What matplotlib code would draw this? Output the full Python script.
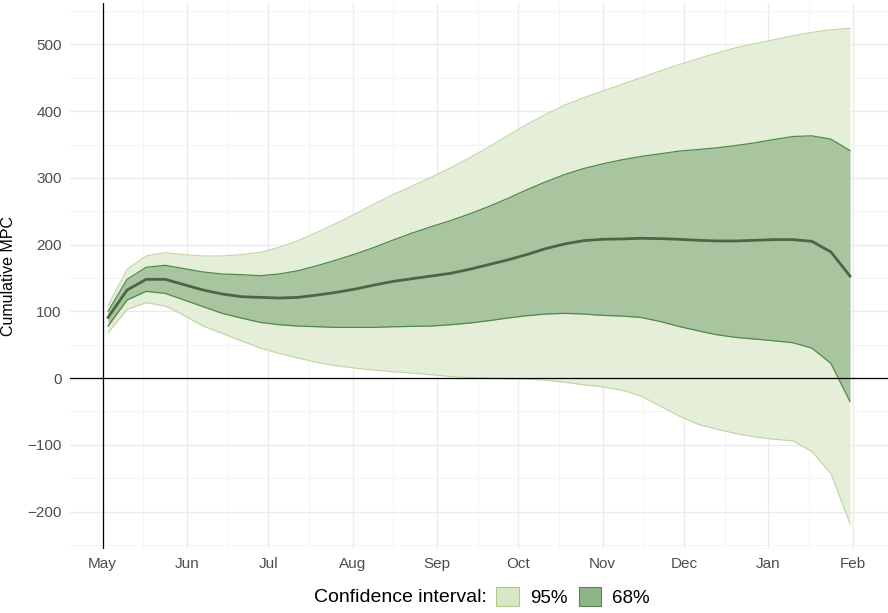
import matplotlib
matplotlib.use("Agg")
import matplotlib.pyplot as plt
from matplotlib.patches import Patch
import numpy as np
import pandas as pd

plt.rcParams['font.family'] = ['Liberation Sans', 'DejaVu Sans']

# weekly dates, May 3 2020 .. Jan 31 2021
dates = pd.date_range("2020-05-03", "2021-01-31", freq="7D")

median = [91, 132, 148, 148, 140, 132, 126, 122,
          121, 120, 121, 124.5, 128.5, 133.5, 139.5, 145,
          149, 153, 157, 163, 170, 177, 185, 194, 201, 206,
          208, 208.5, 209.5, 209, 208, 206.5, 205.5, 205.5, 206.5, 207.5, 207.5,
          205, 189, 153]
upper68 = [100, 148, 166, 169, 164, 159, 156, 155,
           153.5, 156, 161, 168.5, 177, 186, 196, 207,
           217.5, 227, 236, 246, 257, 269, 282, 294, 305, 314,
           321, 327, 332, 336, 340, 342.5, 345, 348.5, 352.5, 357.5, 362,
           363, 358, 341]
lower68 = [78, 117, 130, 127, 117, 107, 97, 90,
           83.5, 80, 78, 77, 76, 76, 76, 77,
           77.5, 78, 80, 82.5, 86, 90, 93.5, 96, 97, 96,
           94, 93, 91, 85, 77.5, 71, 65, 61, 58.5, 56, 53,
           45, 22, -35]
upper95 = [109, 163, 183, 188, 185, 183, 183, 185,
           188.5, 196, 206, 218.5, 232, 246, 261, 275,
           288, 301, 315, 330, 346, 363, 380, 395, 409, 420,
           430, 440, 450, 460, 469.5, 478.5, 487, 495, 501, 507, 513,
           518, 522, 524]
lower95 = [68, 103, 113, 108, 94, 78, 67, 56,
           45, 37, 30, 23.5, 18.5, 15, 12, 9.5,
           7.5, 5, 2.5, 1, 0, -1, -1.5, -3, -6, -10,
           -13, -18, -26.5, -41.5, -56.5, -69, -76.5, -83, -88, -91.5, -94,
           -110, -143, -218]

month_labels = ["May", "Jun", "Jul", "Aug", "Sep", "Oct", "Nov", "Dec", "Jan", "Feb"]

fill95 = "#e5eed9"
edge95 = "#bdd6a0"
fill68 = "#a9c5a0"
edge68 = "#4e8a48"
line_col = "#4a6644"

fig = plt.figure(figsize=(8.88, 6.13), dpi=100)
ax = fig.add_axes([70 / 888, 1 - 549 / 613, 818 / 888, 546 / 613])

ax.fill_between(dates, lower95, upper95, color=fill95, lw=0, zorder=2)
ax.plot(dates, upper95, color=edge95, lw=0.8, zorder=3)
ax.plot(dates, lower95, color=edge95, lw=0.8, zorder=3)
ax.fill_between(dates, lower68, upper68, color=fill68, lw=0, zorder=4)
ax.plot(dates, upper68, color=edge68, lw=0.9, zorder=5)
ax.plot(dates, lower68, color=edge68, lw=0.9, zorder=5)
ax.plot(dates, median, color=line_col, lw=2, zorder=6)

ax.axhline(0, color="black", lw=0.9, zorder=7)
ax.axvline(pd.Timestamp("2020-05-01"), color="black", lw=0.9, zorder=7)

month_ticks = pd.date_range("2020-05-01", "2021-02-01", freq="MS")
mid_ticks = month_ticks[:-1] + pd.Timedelta(days=15)
ax.set_xticks(month_ticks)
ax.set_xticklabels(month_labels)
ax.set_xticks(mid_ticks, minor=True)
ax.set_yticks(np.arange(-200, 501, 100))
ax.set_yticklabels([str(v).replace("-", "\u2212") for v in range(-200, 501, 100)])
ax.set_yticks(np.arange(-250, 551, 100), minor=True)

ax.set_xlim(pd.Timestamp("2020-04-19"), pd.Timestamp("2021-02-14"))
ax.set_ylim(-256, 562)

ax.grid(which="major", color="#ebebeb", lw=1.0, zorder=0)
ax.grid(which="minor", color="#f2f2f2", lw=0.6, zorder=0)
ax.set_axisbelow(True)
for s in ax.spines.values():
    s.set_visible(False)
ax.tick_params(which="both", length=0, labelsize=11, labelcolor="#4d4d4d", pad=6)

ax.set_ylabel("Cumulative MPC", fontsize=11.5, labelpad=8)

fig.text(487 / 888, 1 - 597 / 613, "Confidence interval:", ha="right", va="center", fontsize=14)
handles = [Patch(facecolor="#d8e6c6", edgecolor="#a9cc88", lw=0.8, label="95%"),
           Patch(facecolor="#8fb48a", edgecolor="#4e8a48", lw=0.8, label="68%")]
fig.legend(handles=handles, loc="center left", bbox_to_anchor=(496 / 888, 1 - 597 / 613),
           ncol=2, frameon=False, fontsize=13.5, handlelength=1.2, handleheight=1.2,
           handletextpad=0.6, columnspacing=0.6, borderaxespad=0, borderpad=0)

fig.savefig("out.png", dpi=100)
